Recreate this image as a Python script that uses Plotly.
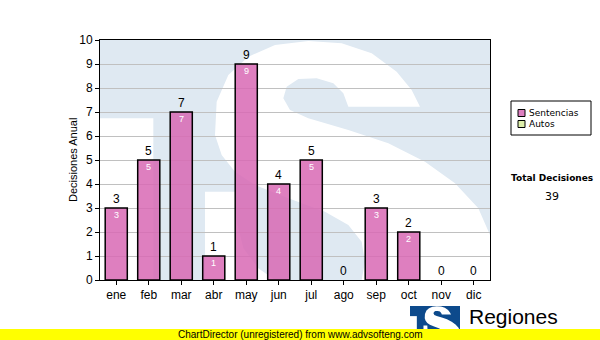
import plotly.graph_objects as go

months = ["ene", "feb", "mar", "abr", "may", "jun", "jul", "ago", "sep", "oct", "nov", "dic"]
sentencias = [3, 5, 7, 1, 9, 4, 5, 0, 3, 2, 0, 0]
autos = [0, 0, 0, 0, 0, 0, 0, 0, 0, 0, 0, 0]
series_names = ["Sentencias", "Autos"]
series_colors = ["#dd7fc0", "#ddeeaa"]
y_ticks = list(range(0, 11))
y_title = "Decisiones Anual"
total_label = "Total Decisiones"
total_value = sum(sentencias) + sum(autos)
footer = "ChartDirector (unregistered) from www.advsofteng.com"
brand = "Regiones"

W, H = 600, 340
L, R, T, B = 100, 490, 40, 280


def px(x):
    return (x - L) / (R - L)


def py(y):
    return (B - y) / (B - T)


# watermark outline, sketched on a 3x grid whose origin is (95, 35)
S_MAIN = [(360, 300), (365, 200), (400, 120), (460, 65), (540, 30), (640, 18), (740, 25), (830, 55),
          (905, 110), (950, 165), (975, 215), (760, 215), (745, 175), (715, 145), (665, 130),
          (610, 132), (575, 155), (565, 190), (585, 225), (640, 250), (760, 285), (880, 325),
          (990, 380), (1080, 445), (1150, 520), (1185, 600), (1185, 735), (800, 735), (810, 680),
          (800, 620), (760, 570), (690, 530), (580, 490), (480, 450), (420, 410), (380, 360)]
S_TAIL = [(330, 470), (420, 470), (425, 560), (445, 640), (490, 700), (540, 735), (330, 735)]
T_CUT = [(15, 250), (175, 250), (175, 735), (15, 735)]


def grid_to_px(pts):
    return [(95 + a / 3, 35 + b / 3) for a, b in pts]


BOX = (L, T, R, B)


def path_from(pts, box_to):
    bx0, by0, bx1, by1 = BOX
    tx0, ty0, tx1, ty1 = box_to
    sx = (tx1 - tx0) / (bx1 - bx0)
    sy = (ty1 - ty0) / (by1 - by0)
    out = []
    for i, (x, y) in enumerate(grid_to_px(pts)):
        x = min(max(x, bx0), bx1)
        y = min(max(y, by0), by1)
        X = tx0 + (x - bx0) * sx
        Y = ty0 + (y - by0) * sy
        out.append(("M" if i == 0 else "L") + f"{px(X):.5f},{py(Y):.5f}")
    return " ".join(out) + " Z"


shapes = []


def add_logo(box, blue):
    x0, y0, x1, y1 = box
    shapes.append(dict(type="rect", xref="paper", yref="paper", x0=px(x0), x1=px(x1),
                       y0=py(y1), y1=py(y0), fillcolor=blue, line_width=0, layer="below"))
    for pts in (S_MAIN, S_TAIL, T_CUT):
        shapes.append(dict(type="path", xref="paper", yref="paper", path=path_from(pts, box),
                           fillcolor="white", line_width=0, layer="below"))


add_logo(BOX, "#dfe9f2")
add_logo((410, 306, 460, 337), "#0d4a8c")

fig = go.Figure()
fig.add_trace(go.Bar(x=months, y=[v if v else None for v in sentencias], name=series_names[0],
                     marker=dict(color="rgba(216,104,180,0.85)", line=dict(color="black", width=1.5)),
                     width=0.68, showlegend=False, hoverinfo="skip"))

annotations = []
for m, v in zip(months, sentencias):
    annotations.append(dict(x=m, y=v, xref="x", yref="y", text=str(v), showarrow=False,
                            yanchor="bottom", yshift=0,
                            font=dict(family="Liberation Sans", size=12, color="black")))
    if v > 0:
        annotations.append(dict(x=m, y=v, xref="x", yref="y", text=str(v), showarrow=False,
                                yanchor="middle", yshift=-7,
                                font=dict(family="Liberation Sans", size=9, color="white")))

annotations.append(dict(x=px(73), y=0.5, xref="paper", yref="paper",
                        text=y_title, textangle=-90, showarrow=False, xanchor="center", yanchor="middle",
                        font=dict(family="Liberation Sans", size=11, color="black")))

# legend box
lx0, ly0, lx1, ly1 = 511, 101, 591, 135
shapes.append(dict(type="rect", xref="paper", yref="paper", x0=px(lx0), x1=px(lx1), y0=py(ly1), y1=py(ly0),
                   line=dict(color="black", width=1), fillcolor="white"))
for i, (nm, col) in enumerate(zip(series_names, series_colors)):
    cy = 113 + i * 11
    shapes.append(dict(type="rect", xref="paper", yref="paper", x0=px(518), x1=px(525),
                       y0=py(cy + 3.5), y1=py(cy - 3.5), line=dict(color="black", width=1), fillcolor=col))
    annotations.append(dict(x=px(527), y=py(cy), xref="paper", yref="paper", text=nm, showarrow=False,
                            xanchor="left", yanchor="middle",
                            font=dict(family="DejaVu Sans", size=9, color="black")))

annotations.append(dict(x=px(552), y=py(178), xref="paper", yref="paper", text=f"<b>{total_label}</b>",
                        showarrow=False, xanchor="center", yanchor="middle",
                        font=dict(family="DejaVu Sans", size=9, color="black")))
annotations.append(dict(x=px(552), y=py(196), xref="paper", yref="paper", text=str(total_value),
                        showarrow=False, xanchor="center", yanchor="middle",
                        font=dict(family="DejaVu Sans", size=11, color="black")))

# brand text
annotations.append(dict(x=px(467), y=py(316), xref="paper", yref="paper", text=brand, showarrow=False,
                        xanchor="left", yanchor="middle",
                        font=dict(family="Liberation Sans", size=21, color="black")))

# footer band
shapes.append(dict(type="rect", xref="paper", yref="paper", x0=px(0), x1=px(W), y0=py(H), y1=py(329),
                   fillcolor="#ffff00", line_width=0, layer="above"))
annotations.append(dict(x=px(300), y=py(334.5), xref="paper", yref="paper", text=footer, showarrow=False,
                        xanchor="center", yanchor="middle",
                        font=dict(family="Liberation Sans", size=10, color="black")))

fig.update_layout(
    width=W, height=H,
    margin=dict(l=L, r=W - R, t=T, b=H - B, pad=0),
    paper_bgcolor="white", plot_bgcolor="rgba(0,0,0,0)",
    shapes=shapes, annotations=annotations,
    bargap=0.32, showlegend=False,
    font=dict(family="Liberation Sans", size=12, color="black"),
    xaxis=dict(range=[-0.5, 11.5], showline=True, linecolor="black", linewidth=1, mirror=True,
               ticks="outside", ticklen=4, tickcolor="black", showgrid=False,
               tickfont=dict(family="Liberation Sans", size=12, color="black")),
    yaxis=dict(range=[0, 10], tickvals=y_ticks, showline=True, linecolor="black", linewidth=1, mirror=True,
               ticks="outside", ticklen=4, tickcolor="black", showgrid=True, gridcolor="#c0c0c0",
               gridwidth=1, zeroline=False,
               tickfont=dict(family="Liberation Sans", size=12, color="black")),
)

fig.write_html("out.html")
